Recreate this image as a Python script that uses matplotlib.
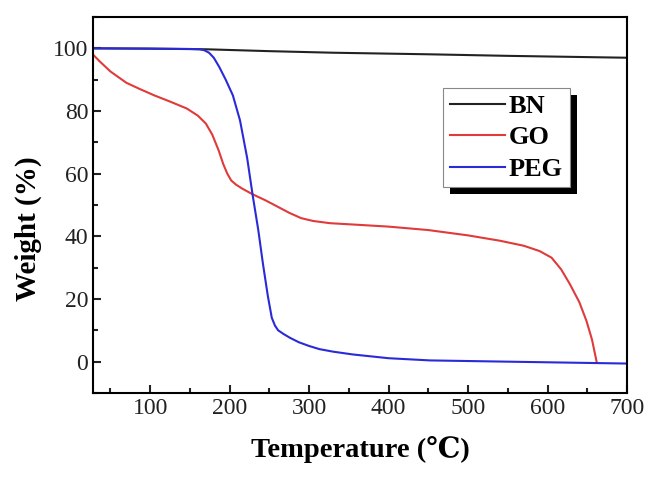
import matplotlib
matplotlib.use('Agg')
import matplotlib.pyplot as plt
from matplotlib.ticker import MultipleLocator
from matplotlib.patches import Rectangle
import numpy as np

plt.rcParams['font.family'] = ['Liberation Serif', 'DejaVu Serif']

# values
bn_t = [28, 100, 170, 250, 330, 450, 550, 650, 700]
bn_w = [100, 99.9, 99.7, 99.1, 98.6, 98.1, 97.6, 97.2, 97.0]

go_t = [28, 37, 50, 70, 87, 105, 125, 146, 160, 170, 178, 186, 192, 197, 202, 208, 216, 229, 245, 260,
        275, 290, 305, 326, 360, 400, 450, 500, 540, 570, 590, 605, 617, 628, 640, 649, 656, 662]
go_w = [98, 95.7, 92.6, 89, 87, 85, 83, 80.8, 78.5, 76, 72.5, 67.5, 63, 60, 57.8, 56.5, 55.2, 53.4, 51.5, 49.5,
        47.5, 45.8, 44.9, 44.2, 43.7, 43.1, 42, 40.3, 38.6, 37, 35.3, 33.2, 29.5, 24.8, 19, 13, 7, -0.3]

peg_t = [28, 100, 150, 162, 168, 174, 180, 187, 195, 204, 213, 222, 229, 236, 242, 248, 253, 257, 261, 268,
         276, 287, 300, 313, 330, 355, 400, 452, 550, 700]
peg_w = [100, 99.9, 99.8, 99.7, 99.4, 98.6, 97, 94, 90, 85, 77, 65, 53, 42, 31, 21, 14, 11.5, 10, 8.8,
         7.6, 6.2, 5, 4, 3.2, 2.3, 1.1, 0.4, 0, -0.6]

fig = plt.figure(figsize=(6.51, 4.78), dpi=100)
ax = fig.add_axes([93/651, 1-393/478, (627-93)/651, (393-17)/478])

ax.plot(bn_t, bn_w, color='#222222', lw=1.5, label='BN')
ax.plot(go_t, go_w, color='#e03a3a', lw=1.5, label='GO')
ax.plot(peg_t, peg_w, color='#2a2ad8', lw=1.5, label='PEG')

ax.set_xlim(28, 700)
ax.set_ylim(-10, 110)
ax.xaxis.set_major_locator(MultipleLocator(100))
ax.xaxis.set_minor_locator(MultipleLocator(50))
ax.yaxis.set_major_locator(MultipleLocator(20))
ax.yaxis.set_minor_locator(MultipleLocator(10))
ax.tick_params(which='both', direction='in', width=1.5, labelsize=17, colors='#222222')
ax.tick_params(which='major', length=6)
ax.tick_params(which='minor', length=3.5)
for s in ax.spines.values():
    s.set_linewidth(1.5)

ax.set_xlabel('Temperature (\u2103)', fontsize=20.5, fontweight='bold', labelpad=12)
ax.set_ylabel('Weight (%)', fontsize=21, fontweight='bold')
ax.yaxis.set_label_coords(-(93 - 42) / 534, (393 - 229) / 376)

leg = ax.legend(loc='upper left', bbox_to_anchor=((443-93)/534, 1-(88-17)/376),
                prop={'weight': 'bold', 'size': 19}, frameon=True, fancybox=False,
                handlelength=2.1, handletextpad=0.15,
                labelspacing=0.3, borderpad=0.25, borderaxespad=0)
leg.get_frame().set_edgecolor('#888888')
leg.get_frame().set_linewidth(0.8)
leg.get_frame().set_alpha(1)

# drop shadow like the original, offset down-right
fig.canvas.draw()
bb = leg.get_window_extent().transformed(ax.transAxes.inverted())
dx = 7 / 534
dy = 7 / 376
ax.add_patch(Rectangle((bb.x0 + dx, bb.y0 - dy), bb.width, bb.height, transform=ax.transAxes,
                       facecolor='black', edgecolor='none', zorder=4.9))

fig.savefig('out.png', dpi=100)
